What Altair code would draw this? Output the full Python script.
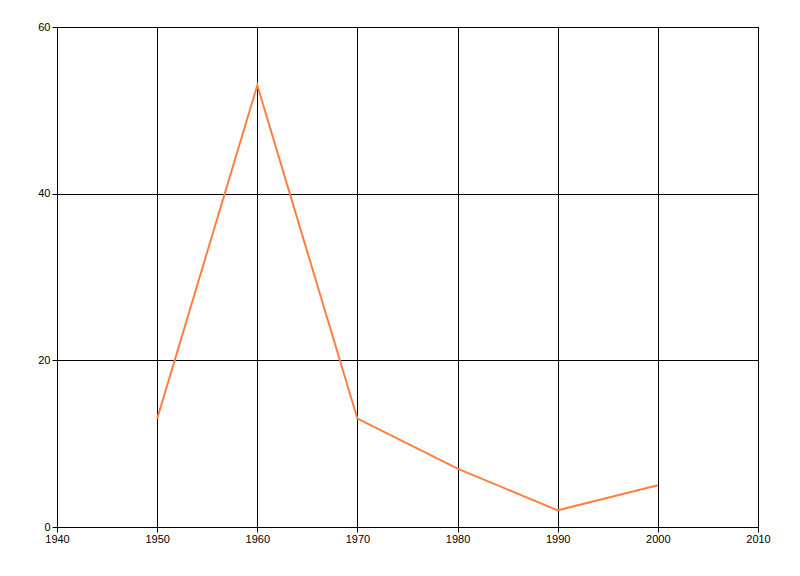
import altair as alt
import pandas as pd

years = [1950, 1960, 1970, 1980, 1990, 2000]
values = [13, 53, 13, 7, 2, 5]

df = pd.DataFrame({"year": years, "value": values})

chart = alt.Chart(df).mark_line(color="#FF7F40", strokeWidth=2).encode(
    x=alt.X("year:Q", scale=alt.Scale(domain=[1940, 2010], nice=False, zero=False),
            axis=alt.Axis(title=None, values=[1940, 1950, 1960, 1970, 1980, 1990, 2000, 2010],
                          format="d", gridColor="black", gridOpacity=1, domainColor="black",
                          tickColor="black", labelColor="black", labelFontSize=11,
                          labelFont="Liberation Sans", tickSize=5, labelPadding=1,
                          labelFlush=False, labelOverlap=False)),
    y=alt.Y("value:Q", scale=alt.Scale(domain=[0, 60], nice=False),
            axis=alt.Axis(title=None, values=[0, 20, 40, 60],
                          gridColor="black", gridOpacity=1, domainColor="black",
                          tickColor="black", labelColor="black", labelFontSize=11,
                          labelFont="Liberation Sans", tickSize=5, labelPadding=2,
                          labelFlush=False, labelOverlap=False)),
).properties(
    width=701, height=500,
    autosize=alt.AutoSizeParams(type="none"),
    padding={"left": 49, "top": 19, "right": 30, "bottom": 40},
).configure_view(stroke="black", strokeWidth=1)

chart.save("out.html", embed_options={"renderer": "svg", "actions": False})
